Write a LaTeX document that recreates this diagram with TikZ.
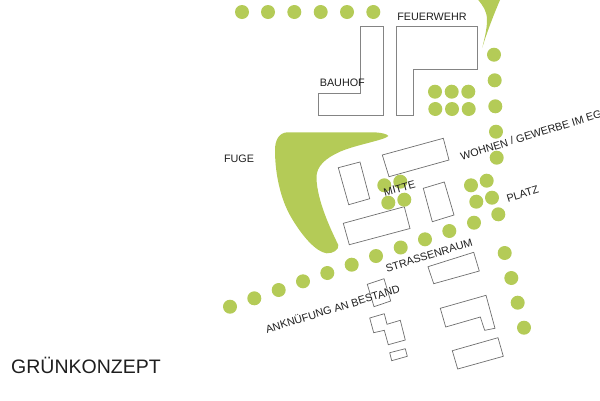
\documentclass[tikz,border=0pt]{standalone}
\usepackage{fontspec}
\setmainfont{Liberation Sans}
\definecolor{gruen}{HTML}{B4CB57}
\definecolor{linie}{HTML}{6E6E6E}
\definecolor{schrift}{HTML}{1E1E1E}
\tikzset{
  baum/.style={fill=gruen,draw=none,circle,minimum size=14pt,inner sep=0pt},
  flaeche/.style={fill=gruen,draw=none},
  haus/.style={draw=linie,line width=0.7pt,line join=miter},
  grosshaus/.style={draw=linie!85,line width=0.95pt,line join=miter},
  label/.style={font=\fontsize{10.8}{12}\selectfont,text=schrift,inner sep=0pt},
  schraeg/.style={label,rotate=17},
  titel/.style={font=\fontsize{19.5}{24}\selectfont,text=schrift,inner sep=0pt}
}
\begin{document}
\begin{tikzpicture}[x=1pt,y=-1pt]
\useasboundingbox (0,0) rectangle (600,400);
\clip (0,0) rectangle (600,400);
% green areas
\path[flaeche] (287,132.3) -- (372,132.3) .. controls (380,132.3) and (388,134) .. (388.3,136)
  .. controls (385,140) and (355,145) .. (340,151.7)
  .. controls (326,158) and (316,166) .. (316.5,178)
  .. controls (317,200) and (330,228) .. (338.3,245)
  .. controls (339,250) and (333,253.5) .. (326.7,253.3)
  .. controls (316,252) and (302,236) .. (291,217)
  .. controls (281,200) and (275,175) .. (275,150)
  .. controls (275,140) and (279,133) .. (287,132.3) -- cycle;
\path[flaeche] (478.3,0) .. controls (483,6) and (487,11) .. (487,20)
  .. controls (487,30) and (484,40) .. (482.3,47.7)
  .. controls (487,32) and (494,14) .. (500,0) -- cycle;
% buildings
\draw[grosshaus] (360.7,26.7) -- (383,26.7) -- (383,115.7) -- (318.7,115.7) -- (318.7,93.7) -- (360.7,93.7) -- cycle;
\draw[grosshaus] (396,26.7) -- (477.3,26.7) -- (477.3,69.3) -- (413.3,69.3) -- (413.3,115.7) -- (396,115.7) -- cycle;
\draw[haus] (338.3,167.7) -- (360,162) -- (369.7,198.7) -- (348.7,204.7) -- cycle;
\draw[haus] (382.3,155) -- (443.3,138.3) -- (449,160) -- (389,176.7) -- cycle;
\draw[haus] (343.3,223.3) -- (404.3,206.7) -- (410,228.5) -- (349.3,244.7) -- cycle;
\draw[haus] (423.3,188.3) -- (444.3,182) -- (454,215) -- (432.3,221.7) -- cycle;
\draw[haus] (428,266.7) -- (473.7,252.3) -- (479.3,271) -- (433.7,283.7) -- cycle;
\draw[haus] (440.3,308.3) -- (486,295.3) -- (495,328.3) -- (484.7,330.3) -- (480.3,317) -- (445.7,327) -- cycle;
\draw[haus] (452.3,350.7) -- (498,337.7) -- (503.3,356.3) -- (457.7,369) -- cycle;
\draw[haus] (367.3,284.3) -- (384,278.7) -- (390.7,301) -- (374,306.7) -- cycle;
\draw[haus] (369.7,318) -- (384.3,313.7) -- (387,324.3) -- (400.3,320.3) -- (405.3,340) -- (388.3,344.7) -- (384.3,330.3) -- (373.7,332.7) -- cycle;
\draw[haus] (389.7,352.7) -- (405.3,348.7) -- (407.3,356.3) -- (391.7,360.7) -- cycle;
% trees
\foreach \n/\x/\y in {
  a1/242/12,a2/268/12,a3/294.3/12,a4/320.7/12,a5/347/12,a6/373.3/12,
  b1/494/54.7,b2/494.7/80.3,b3/495.3/106.3,b4/496/131.7,b5/496.7/157.7,
  c1/435/91.7,c2/451.7/91.7,c3/468.3/91.7,c4/435.3/109,c5/452/109,c6/468.7/109,
  d1/471/185.3,d2/486.7/180.7,d3/476.3/201.7,d4/492/197.7,d5/498.3/214.3,
  e1/384.3/185.3,e2/400.3/181.7,e3/388.3/202.7,e4/404.3/199.7,
  f1/474/222.7,f2/449.3/231,f3/425/239.3,f4/400.7/247.5,f5/376/256,f6/351.7/264.7,
  f7/327.3/273,f8/303/281.3,f9/278.7/290,f10/254.3/298.3,f11/230/306.7,
  g1/504.7/253,g2/511.3/278,g3/517.7/302.7,g4/524/327.7}
  \node[baum] (t\n) at (\x,\y) {};
% labels
\node[label] (bauhof) at (342.3,82.3) {BAUHOF};
\node[label] (feuerwehr) at (432,16.5) {FEUERWEHR};
\node[label] (fuge) at (239,158.3) {FUGE};
\node[schraeg,rotate=-2] (mitte) at (399.5,188.5) {MITTE};
\node[schraeg,anchor=west] (wohnen) at (460.5,156.5) {WOHNEN / GEWERBE IM EG};
\node[schraeg] (platz) at (522.7,194.3) {PLATZ};
\node[schraeg] (strasse) at (429,255.5) {STRASSENRAUM};
\node[schraeg] (anknuepfung) at (332.5,308.5) {ANKNÜFUNG AN BESTAND};
\node[titel,anchor=west] (titel) at (11,365) {GRÜNKONZEPT};
\end{tikzpicture}
\end{document}
